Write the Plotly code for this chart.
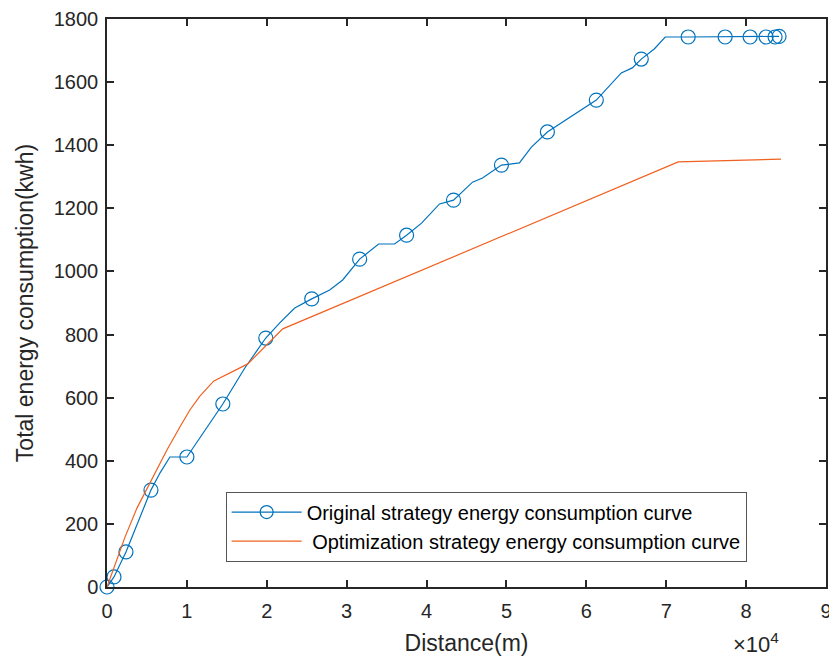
import plotly.graph_objects as go

# Original strategy (blue) line vertices
orig_x = [0, 875, 2375, 4125, 5500, 6625, 7875, 10000, 12250, 14500, 17250, 19875, 21625, 23500,
          25625, 27875, 29500, 31625, 34000, 36000, 37500, 39375, 41625, 43375, 45750, 47000,
          49375, 51625, 53125, 55125, 61250, 64375, 65750, 66875, 68500, 69875, 72750, 77375,
          80500, 82500, 83625, 84125]
orig_y = [0, 32, 111, 219, 307, 361, 412, 412, 498, 580, 694, 789, 837, 884,
          913, 941, 973, 1039, 1087, 1087, 1115, 1153, 1214, 1226, 1283, 1296,
          1337, 1344, 1394, 1442, 1543, 1629, 1645, 1673, 1705, 1743, 1743, 1743,
          1743, 1743, 1743, 1745]
# Marker positions on the original curve
mark_x = [0, 875, 2375, 5500, 10000, 14500, 19875, 25625, 31625, 37500, 43375, 49375, 55125,
          61250, 66875, 72750, 77375, 80500, 82500, 83625, 84125]
mark_y = [0, 32, 111, 307, 412, 580, 789, 913, 1039, 1115, 1226, 1337, 1442,
          1543, 1673, 1743, 1743, 1743, 1743, 1743, 1745]

# Optimization strategy (orange)
opt_x = [0, 625, 2250, 3750, 5375, 7500, 9125, 10375, 11625, 13375, 17625, 22000, 71500, 84375]
opt_y = [0, 44, 158, 250, 330, 434, 507, 561, 605, 653, 707, 818, 1347, 1356]

x_ticks = [0, 10000, 20000, 30000, 40000, 50000, 60000, 70000, 80000, 90000]
x_tick_text = ["0", "1", "2", "3", "4", "5", "6", "7", "8", "9"]
y_ticks = [0, 200, 400, 600, 800, 1000, 1200, 1400, 1600, 1800]

BLUE = "#0072BD"
ORANGE = "#F0601F"
FONT = "Liberation Sans, Arial, sans-serif"
DARK = "#262626"

fig = go.Figure()
fig.add_trace(go.Scatter(x=orig_x, y=orig_y, mode="lines", line=dict(color=BLUE, width=1.2),
                         showlegend=False, hoverinfo="skip"))
fig.add_trace(go.Scatter(x=mark_x, y=mark_y, mode="markers", cliponaxis=False,
                         marker=dict(symbol="circle-open", size=14, color=BLUE, line=dict(width=1.2)),
                         showlegend=False))
fig.add_trace(go.Scatter(x=[None], y=[None], mode="lines+markers",
                         line=dict(color=BLUE, width=1.2),
                         marker=dict(symbol="circle-open", size=13, color=BLUE, line=dict(width=1.2)),
                         name="Original strategy energy consumption curve"))
fig.add_trace(go.Scatter(x=opt_x, y=opt_y, mode="lines", line=dict(color=ORANGE, width=1.2),
                         name=" Optimization strategy energy consumption curve"))

axis_common = dict(showgrid=False, zeroline=False, showline=True, linecolor=DARK, linewidth=1.5,
                   mirror="ticks", ticks="inside", ticklen=7, tickwidth=1.5, tickcolor=DARK,
                   automargin=False,
                   tickfont=dict(family=FONT, size=20, color=DARK))
fig.update_xaxes(range=[0, 90000], tickvals=x_ticks, ticktext=x_tick_text, ticklabelstandoff=5,
                 title=dict(text="Distance(m)", font=dict(family=FONT, size=23, color=DARK), standoff=14),
                 **axis_common)
fig.update_yaxes(range=[0, 1800], tickvals=y_ticks, ticklabelstandoff=3,
                 title=dict(text="Total energy consumption(kwh)", font=dict(family=FONT, size=23, color=DARK), standoff=14),
                 **axis_common)

fig.add_annotation(x=0.938, y=0, xref="paper", yref="paper", xanchor="right", yanchor="top", yshift=-40,
                   text="×10<sup>4</sup>", showarrow=False, font=dict(family=FONT, size=22, color=DARK))

fig.update_layout(width=829, height=649, plot_bgcolor="white", paper_bgcolor="white",
                  margin=dict(l=99, r=11, t=11, b=70, autoexpand=False),
                  legend=dict(x=0.165, y=0.168, xanchor="left", yanchor="top",
                              bgcolor="white", bordercolor="#555555", borderwidth=1,
                              font=dict(family=FONT, size=20, color="#000000"),
                              tracegroupgap=0, itemwidth=70),
                  showlegend=True)

fig.write_html("out.html")
